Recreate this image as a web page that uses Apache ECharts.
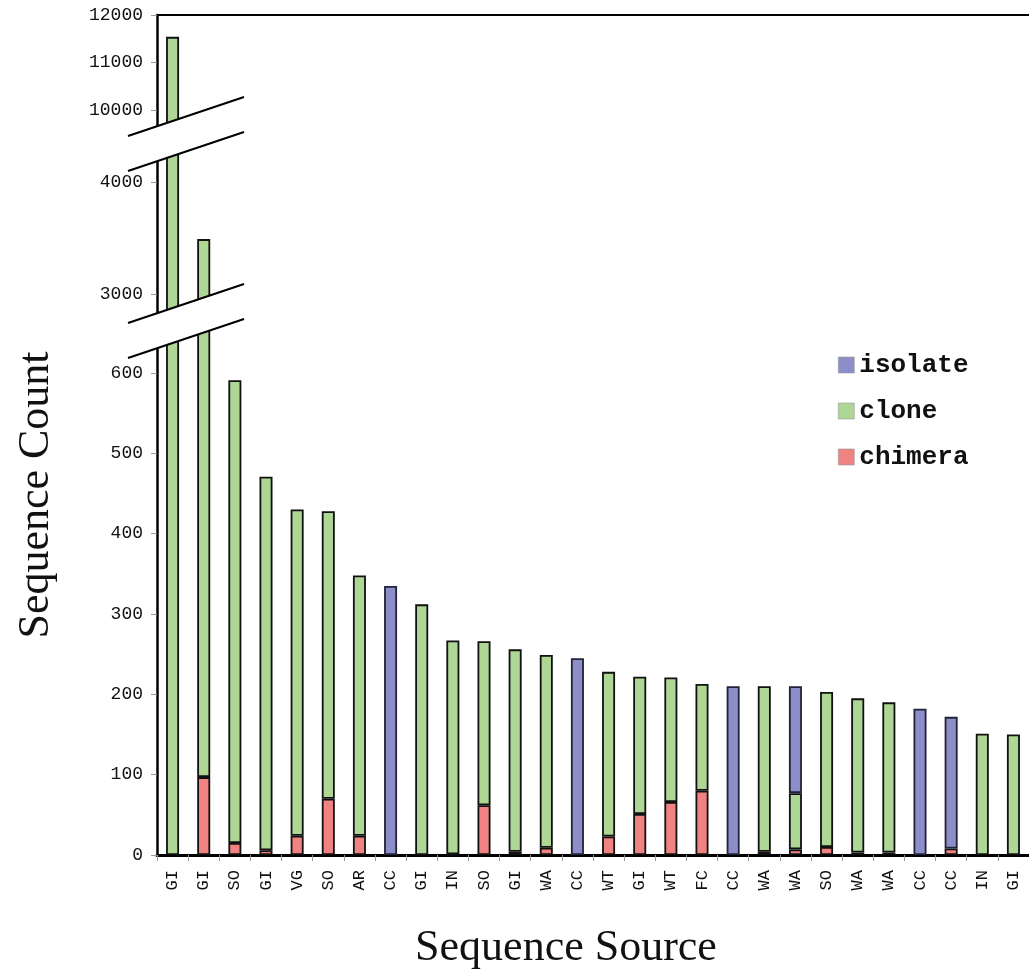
<!DOCTYPE html>
<html>
<head>
<meta charset="utf-8">
<script src="https://cdn.jsdelivr.net/npm/echarts@6/dist/echarts.min.js"></script>
<style>
html,body{margin:0;padding:0;background:#fff;}
#c{width:1029px;height:977px;}
</style>
</head>
<body>
<div id="c"></div>
<script>
const categories = ['GI','GI','SO','GI','VG','SO','AR','CC','GI','IN','SO','GI','WA','CC','WT','GI','WT','FC','CC','WA','WA','SO','WA','WA','CC','CC','IN','GI'];
const chimera = [0,97,15,6,24,70,24,0,0,1,62,4,9,0,23,51,66,80,0,4,7,10,3,3,0,8,0,0];
const clone   = [11540,3393,576,465,406,358,324,0,312,266,204,252,240,0,205,171,155,133,0,206,70,193,192,187,0,0,151,150];
const isolate = [0,0,0,0,0,0,0,335,0,0,0,0,0,245,0,0,0,0,210,0,133,0,0,0,182,164,0,0];

const topTicks = [10000, 11000, 12000];
const midTicks = [3000, 4000];
const lowTicks = [0, 100, 200, 300, 400, 500, 600];

const colors = {isolate:'#8b8ec8', clone:'#aed694', chimera:'#f08282'};
const mono = '"Liberation Mono", "Courier New", monospace';
const serif = '"Liberation Serif", "Times New Roman", serif';

// layout (styling)
const L = 157;
const grids = [
  {left: L, right: -3, top: 15, height: 123.5},
  {left: L, right: -3, top: 148.4, height: 179.2},
  {left: L, right: -3, top: 324.8, height: 530.2}
];
const ranges = [[9400, 12000, topTicks], [2700, 4300, midTicks], [0, 660, lowTicks]];

const chart = echarts.init(document.getElementById('c'), null, {renderer: 'canvas'});

const xAxes = grids.map((g, i) => ({
  type: 'category', gridIndex: i, data: categories,
  position: i === 0 ? 'top' : 'bottom',
  show: i !== 1,
  axisLine: {show: true, lineStyle: {color: '#000', width: i === 2 ? 3 : 2}},
  axisTick: {show: i === 2, interval: 0, length: 6, lineStyle: {color: '#999', width: 1}},
  axisLabel: {show: i === 2, interval: 0, rotate: 90, margin: 15, fontFamily: mono, fontSize: 17, color: '#111'},
  splitLine: {show: false}
}));

const yAxes = ranges.map((r, i) => ({
  type: 'value', gridIndex: i, min: r[0], max: r[1],
  axisLine: {show: true, lineStyle: {color: '#000', width: 2.5}},
  axisTick: {show: true, customValues: r[2], length: 6, lineStyle: {color: '#999', width: 1}},
  axisLabel: {show: true, customValues: r[2], formatter: v => String(v), fontFamily: mono, fontSize: 18, color: '#111', margin: 14},
  splitLine: {show: false}
}));

const seriesDefs = [
  ['chimera', chimera],
  ['clone', clone],
  ['isolate', isolate]
];
const series = [];
grids.forEach((g, i) => {
  seriesDefs.forEach(([name, arr]) => {
    series.push({
      name: name, type: 'bar', stack: 'g' + i,
      xAxisIndex: i, yAxisIndex: i,
      barWidth: 13,
      clip: true,
      data: arr.map(v => v === 0 ? '-' : v),
      itemStyle: {color: colors[name], borderColor: name === 'isolate' ? '#22223a' : '#111', borderWidth: 1.8},
      emphasis: {disabled: true},
      animation: false
    });
  });
});

// break decorations (diagonal double lines)
function breakMark(yLeftTop) {
  const x1 = L - 29, x2 = L + 87, rise = 39, sep = 35;
  const a1 = [x1, yLeftTop], a2 = [x2, yLeftTop - rise];
  const b1 = [x1, yLeftTop + sep], b2 = [x2, yLeftTop - rise + sep];
  return [
    {type: 'polygon', z: 100, shape: {points: [a1, a2, b2, b1]}, style: {fill: '#fff', stroke: null}},
    {type: 'line', z: 101, shape: {x1: a1[0], y1: a1[1], x2: a2[0], y2: a2[1]}, style: {stroke: '#000', lineWidth: 2}},
    {type: 'line', z: 101, shape: {x1: b1[0], y1: b1[1], x2: b2[0], y2: b2[1]}, style: {stroke: '#000', lineWidth: 2}}
  ];
}

chart.setOption({
  animation: false,
  backgroundColor: '#fff',
  grid: grids,
  xAxis: xAxes,
  yAxis: yAxes,
  legend: {
    data: ['isolate', 'clone', 'chimera'],
    orient: 'vertical', left: 833, top: 347,
    icon: 'rect', itemWidth: 16, itemHeight: 16, itemGap: 20,
    itemStyle: {borderWidth: 0.6, borderColor: '#999'},
    textStyle: {fontFamily: mono, fontSize: 26, fontWeight: 'bold', color: '#111', lineHeight: 25}
  },
  graphic: [].concat(
    breakMark(136),
    breakMark(323),
    [
      {type: 'text', z: 110, x: 36, y: 495, rotation: Math.PI / 2,
       style: {text: 'Sequence Count', font: '44px ' + serif, fill: '#111', textAlign: 'center', textVerticalAlign: 'middle'}},
      {type: 'text', z: 110, x: 566, y: 948,
       style: {text: 'Sequence Source', font: '44px ' + serif, fill: '#111', textAlign: 'center', textVerticalAlign: 'middle'}}
    ]
  ),
  series: series
});
</script>
</body>
</html>
